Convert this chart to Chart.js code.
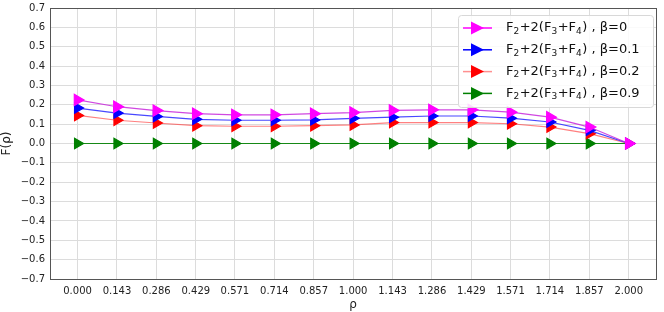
<!DOCTYPE html>
<html>
<head>
<meta charset="utf-8">
<script src="https://cdn.jsdelivr.net/npm/chart.js@4"></script>
<style>
  html, body { margin: 0; padding: 0; background: #fff; }
  #wrap { width: 664px; height: 312px; }
</style>
</head>
<body>
<div id="wrap"><canvas id="c" width="664" height="312"></canvas></div>
<script>
const rho = [0.000, 0.143, 0.286, 0.429, 0.571, 0.714, 0.857, 1.000, 1.143, 1.286, 1.429, 1.571, 1.714, 1.857, 2.000];
const beta0 = [0.225, 0.190, 0.170, 0.154, 0.148, 0.148, 0.154, 0.160, 0.171, 0.174, 0.174, 0.162, 0.136, 0.085, 0.000];
const beta01 = [0.183, 0.157, 0.140, 0.125, 0.120, 0.120, 0.122, 0.130, 0.136, 0.142, 0.142, 0.131, 0.111, 0.068, 0.000];
const beta02 = [0.145, 0.120, 0.106, 0.092, 0.089, 0.089, 0.092, 0.096, 0.108, 0.108, 0.108, 0.102, 0.085, 0.051, 0.000];
const beta09 = [0, 0, 0, 0, 0, 0, 0, 0, 0, 0, 0, 0, 0, 0, 0];
const yTicks = [0.7, 0.6, 0.5, 0.4, 0.3, 0.2, 0.1, 0.0, -0.1, -0.2, -0.3, -0.4, -0.5, -0.6, -0.7];
const betas = ['0', '0.1', '0.2', '0.9'];
const seriesLabels = betas.map(b => 'F₂+2(F₃+F₄) , β=' + b);

const FONT = 'DejaVu Sans';

function pts(ys) {
    return rho.map((x, i) => ({ x: x, y: ys[i] }));
}

function makeSet(label, ys, line, fill, size) {
    return {
        label: label,
        data: pts(ys),
        borderColor: line,
        borderWidth: 1.2,
        backgroundColor: fill,
        pointBackgroundColor: fill,
        pointBorderColor: fill,
        pointStyle: 'triangle',
        rotation: 90,
        pointRadius: size,
        pointHoverRadius: size,
        tension: 0
    };
}

// draws "F2+2(F3+F4) , β=x" with real lowered subscripts
function drawMathLabel(ctx, x, y, beta) {
    const parts = [['F', 0], ['2', 1], ['+2(F', 0], ['3', 1], ['+F', 0], ['4', 1], [') , β=' + beta, 0]];
    let cx = x;
    parts.forEach(p => {
        ctx.font = (p[1] ? '9px ' : '13px ') + FONT;
        ctx.fillText(p[0], cx, y + (p[1] ? 3.5 : 0));
        cx += ctx.measureText(p[0]).width + (p[1] ? 0.5 : 0);
    });
}

// frame + legend inside the plot, upper right, line + marker like the original
const boxLegend = {
    id: 'boxLegend',
    afterDraw(chart) {
        const ctx = chart.ctx;
        const a = chart.chartArea;
        ctx.save();
        ctx.strokeStyle = '#555';
        ctx.lineWidth = 1;
        ctx.strokeRect(Math.round(a.left) + 0.5, Math.round(a.top) + 0.5, Math.round(a.right - a.left), Math.round(a.bottom - a.top));

        const x0 = 458, y0 = 15, w = 195, h = 92;
        ctx.fillStyle = 'rgba(255,255,255,0.85)';
        ctx.strokeStyle = '#d8d8d8';
        ctx.beginPath();
        ctx.roundRect(x0 + 0.5, y0 + 0.5, w, h, 3);
        ctx.fill();
        ctx.stroke();
        chart.data.datasets.forEach((ds, i) => {
            const cy = y0 + 13 + i * 21.8;
            ctx.strokeStyle = ds.legendLine;
            ctx.lineWidth = 1.5;
            ctx.beginPath();
            ctx.moveTo(x0 + 5, cy);
            ctx.lineTo(x0 + 34, cy);
            ctx.stroke();
            ctx.fillStyle = ds.pointBackgroundColor;
            ctx.beginPath();
            ctx.moveTo(x0 + 13, cy - 6.5);
            ctx.lineTo(x0 + 26, cy);
            ctx.lineTo(x0 + 13, cy + 6.5);
            ctx.closePath();
            ctx.fill();
            ctx.fillStyle = '#111';
            ctx.textBaseline = 'middle';
            ctx.textAlign = 'left';
            drawMathLabel(ctx, x0 + 48, cy, betas[i]);
        });
        ctx.restore();
    }
};

const sets = [
    makeSet(seriesLabels[0], beta0, 'rgba(200,40,220,0.85)', '#ff00ff', 6.5),
    makeSet(seriesLabels[1], beta01, 'rgba(40,40,255,0.85)', '#0000ff', 6),
    makeSet(seriesLabels[2], beta02, 'rgba(255,60,60,0.65)', '#ff0000', 6),
    makeSet(seriesLabels[3], beta09, 'rgba(0,128,0,0.9)', '#008000', 6)
];
sets[0].legendLine = '#ff00ff';
sets[1].legendLine = '#0000ff';
sets[2].legendLine = '#ff9090';
sets[3].legendLine = '#008000';

new Chart(document.getElementById('c'), {
    type: 'line',
    data: { datasets: sets },
    options: {
        responsive: false,
        animation: false,
        layout: { padding: { left: 0, right: 5, top: 8, bottom: 0 } },
        plugins: {
            legend: { display: false },
            tooltip: { enabled: false }
        },
        scales: {
            x: {
                type: 'linear',
                min: -0.1,
                max: 2.1,
                afterBuildTicks: (s) => { s.ticks = rho.map(v => ({ value: v })); },
                afterFit: (s) => { s.height = 33; s.paddingLeft = 0; s.paddingRight = 0; },
                ticks: {
                    autoSkip: false,
                    maxRotation: 0,
                    color: '#222',
                    font: { family: FONT, size: 10 },
                    padding: 6,
                    callback: (v) => Number(v).toFixed(3)
                },
                grid: { color: '#dcdcdc', drawTicks: false },
                border: { color: '#555' },
                title: { display: true, text: 'ρ', color: '#222', font: { family: FONT, size: 12 }, padding: 0 }
            },
            y: {
                min: -0.7,
                max: 0.7,
                afterBuildTicks: (s) => { s.ticks = yTicks.map(v => ({ value: v })); },
                afterFit: (s) => { s.width = 50; s.paddingTop = 0; s.paddingBottom = 0; },
                ticks: {
                    color: '#222',
                    font: { family: FONT, size: 10 },
                    padding: 5,
                    callback: (v) => Number(v).toFixed(1).replace('-', '−')
                },
                grid: { color: '#dcdcdc', drawTicks: false },
                border: { color: '#555' },
                title: { display: true, text: 'F(ρ)', color: '#222', font: { family: FONT, size: 12 }, padding: 0 }
            }
        }
    },
    plugins: [boxLegend]
});
</script>
</body>
</html>
